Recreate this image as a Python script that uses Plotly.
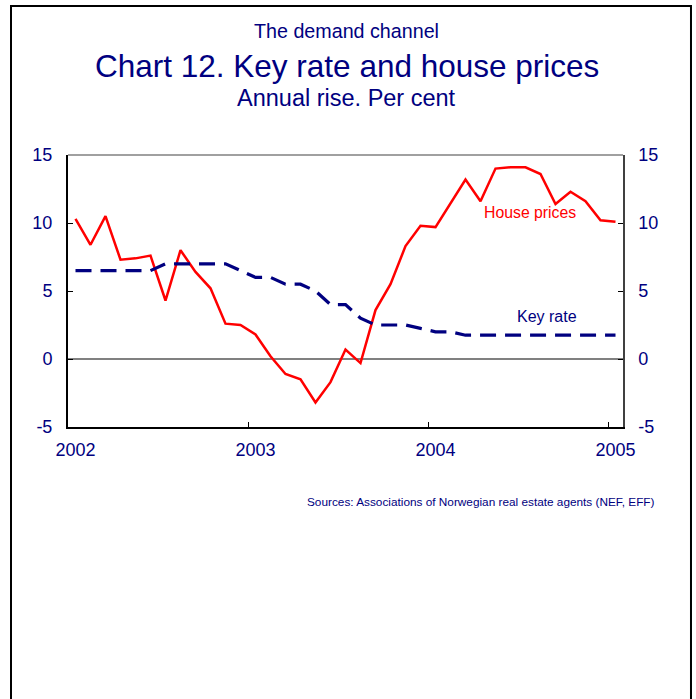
import plotly.graph_objects as go

# ---- data (monthly, Jan 2002 - Jan 2005) ----
months = [f"{y}-{m:02d}" for y in (2002, 2003, 2004) for m in range(1, 13)] + ["2005-01"]
house_prices = [10.3, 8.4, 10.5, 7.3, 7.4, 7.6, 4.3, 8.0, 6.4, 5.2, 2.6, 2.5,
                1.8, 0.2, -1.1, -1.5, -3.2, -1.7, 0.7, -0.3, 3.6, 5.5, 8.3, 9.8,
                9.7, 11.5, 13.2, 11.6, 14.0, 14.1, 14.1, 13.6, 11.4, 12.3, 11.6, 10.2,
                10.1]
key_rate = [6.5, 6.5, 6.5, 6.5, 6.5, 6.5, 7.0, 7.0, 7.0, 7.0, 7.0, 6.5,
            6.0, 6.0, 5.5, 5.5, 5.0, 4.0, 4.0, 3.0, 2.5, 2.5, 2.5, 2.25,
            2.0, 2.0, 1.75, 1.75, 1.75, 1.75, 1.75, 1.75, 1.75, 1.75, 1.75, 1.75,
            1.75]
year_labels = ["2002", "2003", "2004", "2005"]
y_ticks = [-5, 0, 5, 10, 15]
y_tick_text = ["-5", "0", "5", "10", "15"]

idx = list(range(len(months)))
label_pos = [months.index(f"{y}-01") for y in year_labels]
boundary_pos = [p - 0.5 for p in label_pos[1:]]

NAVY = "#000080"
RED = "#FF0000"
FONT = "Liberation Sans, Arial, sans-serif"

fig = go.Figure()
fig.add_trace(go.Scatter(x=idx, y=house_prices, mode="lines", name="House prices",
                         line=dict(color=RED, width=2.5), xaxis="x", yaxis="y"))
fig.add_trace(go.Scatter(x=idx, y=key_rate, mode="lines", name="Key rate",
                         line=dict(color=NAVY, width=3.2, dash="16px,9px"),
                         xaxis="x2", yaxis="y2"))

xr = [-0.5, len(months) - 0.5]
yr = [-5, 15]
TICKFONT = dict(size=18, color=NAVY)

fig.update_layout(
    width=696, height=699,
    margin=dict(l=68, r=73, t=155, b=272),
    paper_bgcolor="white", plot_bgcolor="white",
    showlegend=False,
    font=dict(family=FONT, color=NAVY),
    xaxis=dict(range=xr, tickvals=label_pos, ticktext=year_labels, ticks="",
               showline=True, linecolor="black", linewidth=2, showgrid=False,
               zeroline=False, tickfont=TICKFONT, ticklabelstandoff=5),
    xaxis2=dict(range=xr, overlaying="x", side="bottom", anchor="y2",
                tickvals=boundary_pos, ticks="inside", ticklen=5, tickwidth=1,
                tickcolor="black", showticklabels=False, showline=False,
                showgrid=False, zeroline=False),
    yaxis=dict(range=yr, tickvals=y_ticks, ticktext=y_tick_text, ticks="inside",
               ticklen=5, tickwidth=1, tickcolor="black", showline=True,
               linecolor="black", linewidth=2, showgrid=False, zeroline=True,
               zerolinecolor="#808080", zerolinewidth=1.5, tickfont=TICKFONT,
               ticklabelstandoff=10),
    yaxis2=dict(range=yr, tickvals=y_ticks, ticktext=y_tick_text, overlaying="y",
                side="right", anchor="x2", ticks="inside", ticklen=5, tickwidth=1,
                tickcolor="black", showline=True, linecolor="#404040",
                linewidth=1.5, showgrid=False, zeroline=False,
                tickfont=TICKFONT, ticklabelstandoff=10),
)

# plot-area top border and slide frame
fig.add_shape(type="line", xref="paper", yref="paper", x0=0, x1=1, y0=1, y1=1,
              line=dict(color="#808080", width=1.5))
fig.add_shape(type="path", xref="paper", yref="paper",
              path="M -0.1027,-1.01 L -0.1027,1.5478 L 1.1225,1.5478 L 1.1225,-1.01",
              line=dict(color="black", width=2))

fig.add_annotation(text="The demand channel", xref="paper", yref="paper",
                   x=0.502, y=1.456, showarrow=False, font=dict(size=19.7, color=NAVY),
                   xanchor="center", yanchor="middle")
fig.add_annotation(text="Chart 12. Key rate and house prices", xref="paper", yref="paper",
                   x=0.502, y=1.327, showarrow=False, font=dict(size=31.5, color=NAVY),
                   xanchor="center", yanchor="middle")
fig.add_annotation(text="Annual rise. Per cent", xref="paper", yref="paper",
                   x=0.502, y=1.2096, showarrow=False, font=dict(size=23.5, color=NAVY),
                   xanchor="center", yanchor="middle")
fig.add_annotation(text="House prices", x=30.3, y=10.8, xref="x", yref="y",
                   showarrow=False, font=dict(size=15.8, color=RED))
fig.add_annotation(text="Key rate", x=31.4, y=3.1, xref="x", yref="y",
                   showarrow=False, font=dict(size=16, color=NAVY))
fig.add_annotation(text="Sources: Associations of Norwegian real estate agents (NEF, EFF)",
                   xref="paper", yref="paper", x=1.061, y=-0.276, showarrow=False,
                   xanchor="right", yanchor="middle", font=dict(size=11.8, color=NAVY))

fig.write_html("out.html", config={"displayModeBar": False},
               post_script="document.body.style.margin='0';")
